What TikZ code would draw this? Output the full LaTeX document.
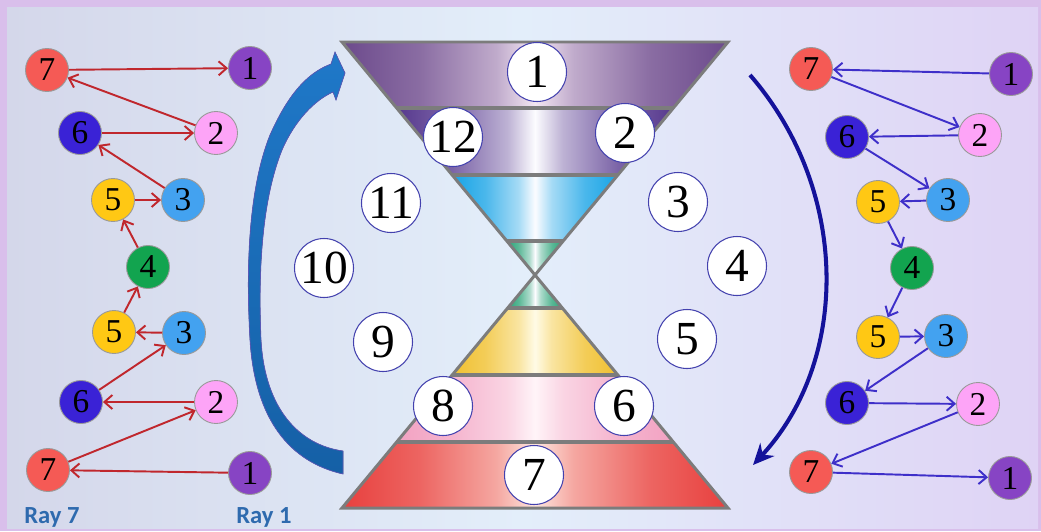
\documentclass[tikz,border=0pt]{standalone}
\usepackage{fontspec}
\setmainfont{Liberation Serif}
\newfontfamily\raysans{Carlito}
\usetikzlibrary{arrows.meta}
\definecolor{framelilac}{HTML}{D9BFEB}
\definecolor{skyleft}{HTML}{D4D7EA}
\definecolor{skymid}{HTML}{E3EEFA}
\definecolor{skyright}{HTML}{DFD3F5}
\definecolor{rayred}{HTML}{F55A55}
\definecolor{raypurple}{HTML}{8744C4}
\definecolor{rayblue}{HTML}{3A22D6}
\definecolor{raypink}{HTML}{FDA4F7}
\definecolor{rayyellow}{HTML}{FFC814}
\definecolor{raysky}{HTML}{43A2F0}
\definecolor{raygreen}{HTML}{12A44F}
\definecolor{arrowred}{HTML}{C0272D}
\definecolor{arrowblue}{HTML}{3E2FC9}
\definecolor{navy}{HTML}{14129A}
\definecolor{swooshtop}{HTML}{1F78C8}
\definecolor{swooshbot}{HTML}{1560A6}
\definecolor{raylabel}{HTML}{2E6AAE}
\definecolor{violetband}{HTML}{6C4A8C}
\definecolor{violetmid}{HTML}{F3E6F2}
\definecolor{deepviolet}{HTML}{57398E}
\definecolor{cyanband}{HTML}{18A4E6}
\definecolor{jadeband}{HTML}{2CA478}
\definecolor{goldband}{HTML}{F0C030}
\definecolor{goldmid}{HTML}{FFFBE6}
\definecolor{roseband}{HTML}{F2A2C2}
\definecolor{rosemid}{HTML}{FFF4F8}
\definecolor{redband}{HTML}{E8403E}
\definecolor{redmid}{HTML}{FDE6DE}
\definecolor{glassmid}{HTML}{FCFCFF}
\definecolor{glassedge}{HTML}{7C7C7C}
% glass band: edge colour, highlight colour
\newcommand{\glassshading}[3]{%
  \pgfdeclarehorizontalshading{#1}{100bp}{color(0bp)=(#2); color(25bp)=(#2);
    color(35bp)=(#2!78!#3); color(45bp)=(#2!38!#3); color(50bp)=(#3);
    color(55bp)=(#2!38!#3); color(65bp)=(#2!78!#3); color(75bp)=(#2); color(100bp)=(#2)}}
\glassshading{glassviolet}{violetband}{violetmid}
\glassshading{glassdeep}{deepviolet}{glassmid}
\glassshading{glasscyan}{cyanband}{glassmid}
\glassshading{glassjade}{jadeband}{glassmid}
\glassshading{glassgold}{goldband}{goldmid}
\glassshading{glassrose}{roseband}{rosemid}
\glassshading{glassred}{redband}{redmid}
\tikzset{
  ball/.style={circle, draw=black!40, line width=0.5pt, minimum size=8.6mm, inner sep=0pt,
    font=\fontsize{19}{19}\selectfont},
  ray1/.style={ball, fill=raypurple},
  ray2/.style={ball, fill=raypink},
  ray3/.style={ball, fill=raysky},
  ray4/.style={ball, fill=raygreen},
  ray5/.style={ball, fill=rayyellow},
  ray6/.style={ball, fill=rayblue},
  ray7/.style={ball, fill=rayred},
  hour/.style={circle, draw=navy!80, line width=0.6pt, fill=white, minimum size=11.8mm,
    inner sep=0pt, font=\fontsize{27}{27}\selectfont},
  redflow/.style={-{Straight Barb[length=1.6mm,width=2.8mm]}, line width=1.1pt, draw=arrowred},
  blueflow/.style={-{Straight Barb[length=1.6mm,width=2.8mm]}, line width=1.1pt, draw=arrowblue},
  glassline/.style={draw=glassedge, line width=2.4pt},
  raytag/.style={font=\raysans\bfseries\fontsize{14}{14}\selectfont, text=raylabel}
}

\begin{document}
\begin{tikzpicture}[x=0.02cm, y=-0.02cm]
  \useasboundingbox (0,0) rectangle (1041,531);
  \fill[framelilac] (0,0) rectangle (1041,531);
  \fill[left color=skyleft, right color=skyright, middle color=skymid] (7,7) rectangle (1038,528);

  % hourglass, upper half
  \shade[shading=glassviolet] (342,42) -- (728,42) -- (673.3,108) -- (396.7,108) -- cycle;
  \shade[shading=glassdeep] (396.7,108) -- (673.3,108) -- (617.8,175) -- (452.2,175) -- cycle;
  \shade[shading=glasscyan] (452.2,175) -- (617.8,175) -- (563.2,241) -- (506.8,241) -- cycle;
  \shade[shading=glassjade] (506.8,241) -- (563.2,241) -- (535,275) -- cycle;
  % hourglass, lower half
  \shade[shading=glassjade] (535,275) -- (562.3,308) -- (507.7,308) -- cycle;
  \shade[shading=glassgold] (507.7,308) -- (562.3,308) -- (617.8,375) -- (452.2,375) -- cycle;
  \shade[shading=glassrose] (452.2,375) -- (617.8,375) -- (673.3,442) -- (396.7,442) -- cycle;
  \shade[shading=glassred] (396.7,442) -- (673.3,442) -- (728,508) -- (342,508) -- cycle;
  \draw[glassline] (396.7,108) -- (673.3,108);
  \draw[glassline] (452.2,175) -- (617.8,175);
  \draw[glassline] (506.8,241) -- (563.2,241);
  \draw[glassline] (507.7,308) -- (562.3,308);
  \draw[glassline] (452.2,375) -- (617.8,375);
  \draw[glassline] (396.7,442) -- (673.3,442);
  \draw[glassedge, line width=1.7pt] (342,42) -- (728,42) -- (535,275) -- cycle;
  \draw[glassedge, line width=1.7pt] (342,508) -- (728,508) -- (535,275) -- cycle;

  % the twelve positions
  \node[hour] (h1) at (537,72) {1};
  \node[hour] (h2) at (625,133) {2};
  \node[hour] (h3) at (678,202) {3};
  \node[hour] (h4) at (737,266) {4};
  \node[hour] (h5) at (687,339) {5};
  \node[hour] (h6) at (624,406) {6};
  \node[hour] (h7) at (534,475) {7};
  \node[hour] (h8) at (443,406) {8};
  \node[hour] (h9) at (383,342) {9};
  \node[hour] (h10) at (324,268) {10};
  \node[hour] (h11) at (391,203) {11};
  \node[hour] (h12) at (453,137) {12};

  % rising arrow on the left
  \fill[top color=swooshtop, bottom color=swooshbot, draw=navy!70, line width=0.4pt]
    (343,474) .. controls (290,462) and (255,420) .. (250,340)
    .. controls (246,270) and (248,190) .. (270,135)
    .. controls (290,90) and (310,72) .. (331,64)
    -- (335,52) -- (345,73) -- (336,100) -- (333,92)
    .. controls (315,100) and (295,120) .. (282,150)
    .. controls (262,200) and (258,270) .. (261,340)
    .. controls (265,410) and (300,445) .. (343,451) -- cycle;

  % falling arc on the right
  \coordinate (arctop) at (750,75);
  \coordinate (arcend) at (753,465);
  \draw[navy, line width=2.3pt, -{Stealth[length=4.2mm,width=3.8mm]}]
    (arctop) .. controls (850,190) and (850,360) .. (arcend);

  % left column, ray 7 to ray 1 and back
  \node[ray7] (la7) at (47,70) {7};
  \node[ray1] (la1) at (250,68) {1};
  \node[ray6] (la6) at (80,133) {6};
  \node[ray2] (la2) at (216,133) {2};
  \node[ray5] (la5) at (113,200) {5};
  \node[ray3] (la3) at (183,200) {3};
  \node[ray4] (l4) at (148,267) {4};
  \node[ray5] (lb5) at (114,332) {5};
  \node[ray3] (lb3) at (184,333) {3};
  \node[ray6] (lb6) at (81,402) {6};
  \node[ray2] (lb2) at (216,402) {2};
  \node[ray7] (lb7) at (48,470) {7};
  \node[ray1] (lb1) at (250,473) {1};
  \draw[redflow] (la7) -- (la1);
  \draw[redflow] (la2) -- (la7);
  \draw[redflow] (la6) -- (la2);
  \draw[redflow] (la3) -- (la6);
  \draw[redflow] (la5) -- (la3);
  \draw[redflow] (l4) -- (la5);
  \draw[redflow] (lb5) -- (l4);
  \draw[redflow] (lb3) -- (lb5);
  \draw[redflow] (lb6) -- (lb3);
  \draw[redflow] (lb2) -- (lb6);
  \draw[redflow] (lb7) -- (lb2);
  \draw[redflow] (lb1) -- (lb7);
  \node[raytag] (tag7) at (52,517) {Ray 7};
  \node[raytag] (tag1) at (264,517) {Ray 1};

  % right column, ray 1 to ray 7 and back
  \node[ray7] (ra7) at (811,69) {7};
  \node[ray1] (ra1) at (1011,74) {1};
  \node[ray6] (ra6) at (847,137) {6};
  \node[ray2] (ra2) at (980,135) {2};
  \node[ray5] (ra5) at (878,202) {5};
  \node[ray3] (ra3) at (948,200) {3};
  \node[ray4] (r4) at (912,268) {4};
  \node[ray5] (rb5) at (878,337) {5};
  \node[ray3] (rb3) at (946,336) {3};
  \node[ray6] (rb6) at (847,403) {6};
  \node[ray2] (rb2) at (978,404) {2};
  \node[ray7] (rb7) at (811,472) {7};
  \node[ray1] (rb1) at (1010,478) {1};
  \draw[blueflow] (ra1) -- (ra7);
  \draw[blueflow] (ra7) -- (ra2);
  \draw[blueflow] (ra2) -- (ra6);
  \draw[blueflow] (ra6) -- (ra3);
  \draw[blueflow] (ra3) -- (ra5);
  \draw[blueflow] (ra5) -- (r4);
  \draw[blueflow] (r4) -- (rb5);
  \draw[blueflow] (rb5) -- (rb3);
  \draw[blueflow] (rb3) -- (rb6);
  \draw[blueflow] (rb6) -- (rb2);
  \draw[blueflow] (rb2) -- (rb7);
  \draw[blueflow] (rb7) -- (rb1);
\end{tikzpicture}
\end{document}
